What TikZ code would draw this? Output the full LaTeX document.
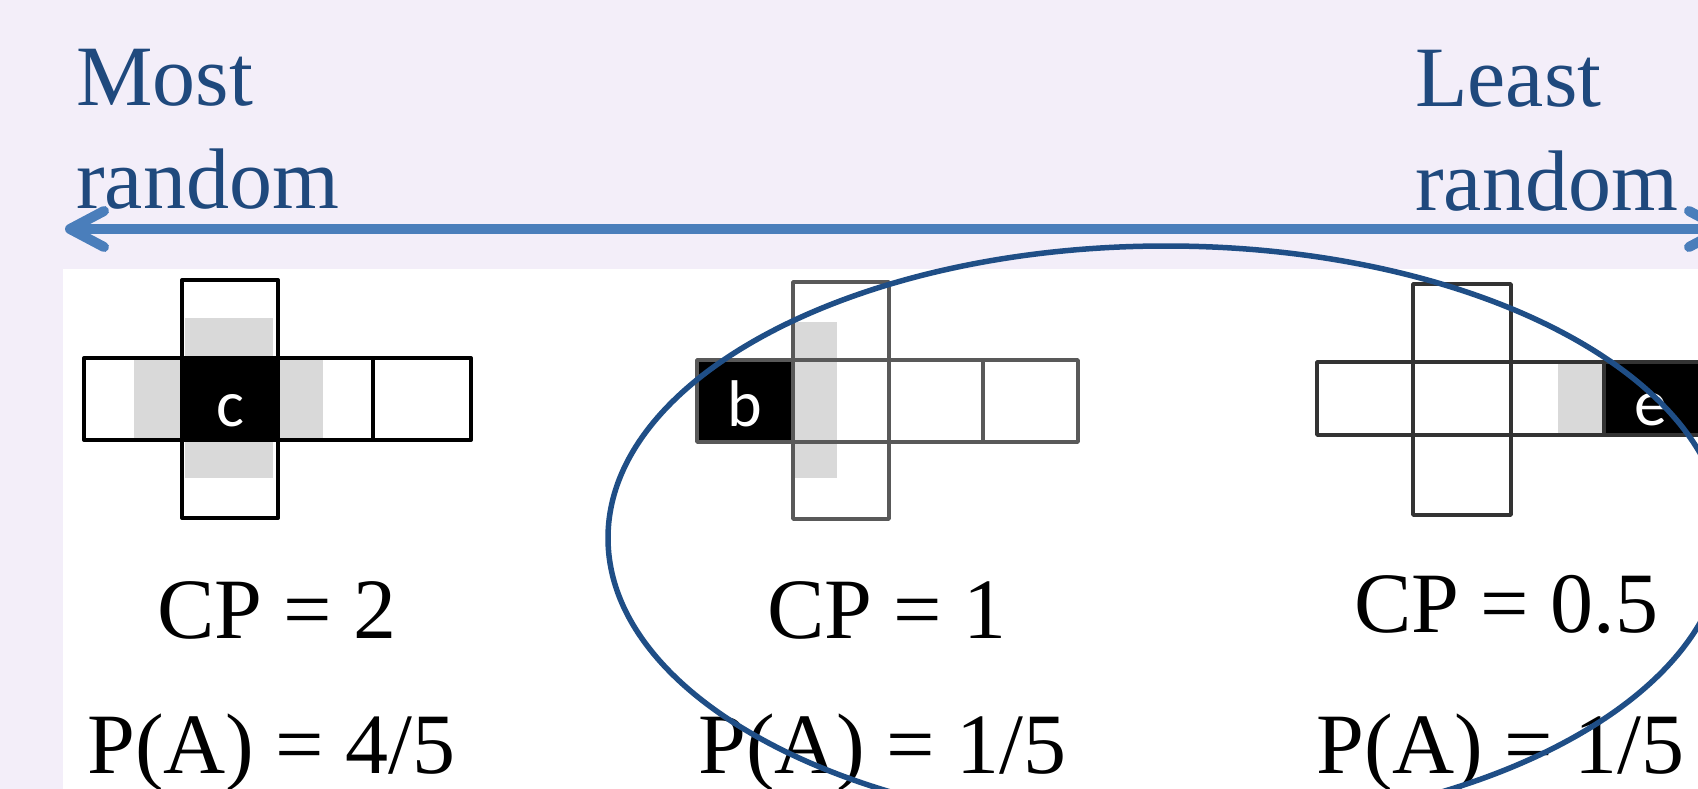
\documentclass[tikz,border=0pt]{standalone}
\usepackage{fontspec}
\setmainfont{Liberation Serif}
\newfontfamily\cellfont{Carlito}
\usetikzlibrary{calc}
\definecolor{bg}{HTML}{F3EEF9}
\definecolor{txtblue}{HTML}{1F497D}
\definecolor{arrblue}{HTML}{4A7EBB}
\definecolor{ellblue}{HTML}{1F4E86}
\definecolor{cellgray}{HTML}{D9D9D9}
\tikzset{
  bigtxt/.style={inner sep=0pt, anchor=base west, text=txtblue, font=\fontsize{86}{100}\selectfont},
  valtxt/.style={inner sep=0pt, anchor=base west, text=black, font=\fontsize{86}{100}\selectfont},
  letter/.style={inner sep=0pt, anchor=base, text=white, font=\cellfont\fontsize{66}{80}\selectfont},
  gridA/.style={draw=black, line width=4pt, line join=round},
  gridB/.style={draw=black!65, line width=3.5pt, line join=round},
  gridC/.style={draw=black!80, line width=3.5pt, line join=round},
  axis/.style={draw=arrblue, line width=10pt},
  barb/.style={draw=arrblue, line width=10pt, line cap=round, line join=round},
  ring/.style={draw=ellblue, line width=5.5pt}
}
\begin{document}
\begin{tikzpicture}[x=1pt,y=-1pt]
\useasboundingbox (0,0) rectangle (1698,789);
\clip (0,0) rectangle (1698,789);
\fill[bg] (0,0) rectangle (1698,789);
\fill[white] (63,269) rectangle (1698,789);

% labels
\node[bigtxt] (most) at (76,106) {Most};
\node[bigtxt] (mostr) at (76,208) {random};
\node[bigtxt] (least) at (1415,107) {Least};
\node[bigtxt] (leastr) at (1415,210) {random};

% double arrow
\coordinate (al) at (70,229);
\coordinate (ar) at (1723,229);
\draw[axis] (al) -- (ar);
\draw[barb] ($(al)+(34,-18)$) -- (al) -- ($(al)+(34,18)$);
\draw[barb] ($(ar)+(-34,-18)$) -- (ar) -- ($(ar)+(-34,18)$);

% panel 1 (c)
\fill[cellgray] (134,358) rectangle (182,440);
\fill[cellgray] (278,358) rectangle (323,440);
\fill[cellgray] (185,318) rectangle (273,358);
\fill[cellgray] (185,440) rectangle (273,478);
\fill[black] (182,358) rectangle (278,440);
\draw[gridA] (84,358) rectangle (471,440);
\draw[gridA] (182,280) rectangle (278,518);
\draw[gridA] (373,358) -- (373,440);
\node[letter] (lc) at (230,426) {c};

% panel 2 (b)
\fill[cellgray] (793,322) rectangle (837,478);
\fill[black] (697,360) rectangle (793,442);
\draw[gridB] (697,360) rectangle (1078,442);
\draw[gridB] (793,282) rectangle (889,519);
\draw[gridB] (983,360) -- (983,442);
\node[letter] (lb) at (745,426) {b};

% panel 3 (e)
\fill[cellgray] (1558,362) rectangle (1604,435);
\fill[black] (1604,362) rectangle (1720,435);
\draw[gridC] (1317,362) rectangle (1720,435);
\draw[gridC] (1413,284) rectangle (1511,515);
\draw[gridC] (1604,362) -- (1604,435);
\node[letter] (le) at (1651,425) {e};

% values
\node[valtxt] (cp1) at (157,638) {CP = 2};
\node[valtxt] (cp2) at (767,638) {CP = 1};
\node[valtxt] (cp3) at (1354,632) {CP = 0.5};
\node[valtxt] (pa1) at (87,773) {P(A) = 4/5};
\node[valtxt] (pa2) at (698,773) {P(A) = 1/5};
\node[valtxt] (pa3) at (1316,773) {P(A) = 1/5};

% ellipse
\draw[ring] (1166,538) ellipse [x radius=558pt, y radius=292pt];
\end{tikzpicture}
\end{document}
